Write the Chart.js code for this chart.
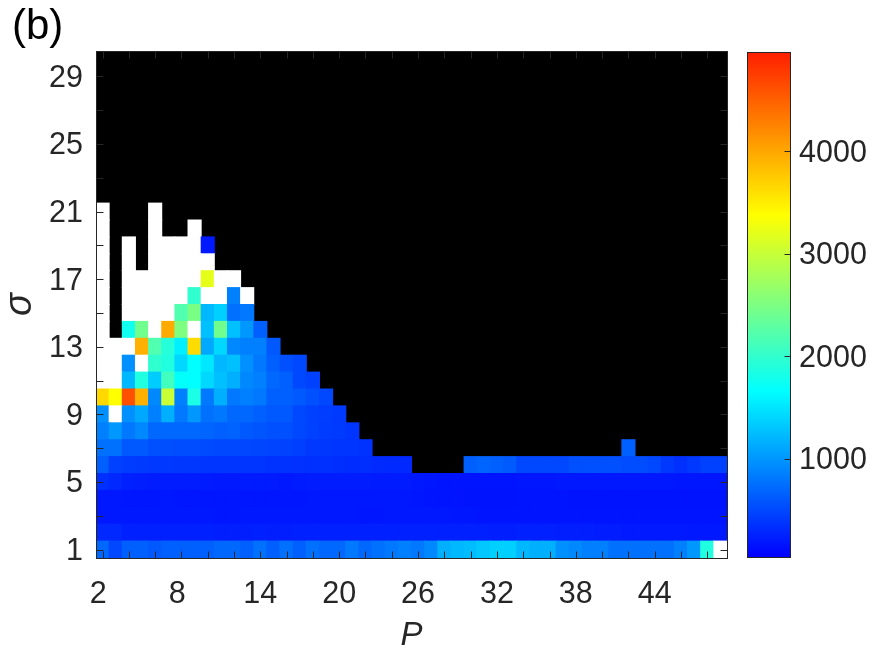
<!DOCTYPE html>
<html>
<head>
<meta charset="utf-8">
<title>(b)</title>
<script src="https://cdn.jsdelivr.net/npm/chart.js@4"></script>
<style>
body{margin:0;background:#fff;}
canvas{position:absolute;top:0;}
#panelTag{position:absolute;left:12px;top:1px;font:42px "Liberation Sans",Arial,sans-serif;color:#000;}
</style>
</head>
<body>
<canvas id="heat" width="875" height="656" style="left:0"></canvas>
<canvas id="bar" width="145" height="656" style="left:730px"></canvas>
<div id="panelTag">(b)</div>
<script>
'use strict';
const _ = null;   // black, no value
const W = 9999;   // white, off the colour range

const categories = [];
for (let p = 2; p <= 49; p++) categories.push(p);
const xTickLabels = [2, 8, 14, 20, 26, 32, 38, 44];
const yTickLabels = [1, 5, 9, 13, 17, 21, 25, 29];
const yTickMarks = [1, 3, 5, 7, 9, 11, 13, 15, 17, 19, 21, 23, 25, 27, 29];
const barTicks = [1000, 2000, 3000, 4000];
const barRange = [40, 4970];
const colorStops = [[40, [0, 0, 255]], [1663, [0, 255, 255]], [3377, [255, 255, 0]], [4970, [255, 30, 0]]];

const row1 = [702,498,651,651,600,651,651,651,651,702,702,651,753,651,753,651,753,702,702,804,702,753,804,855,804,906,1160,1211,1240,1313,1364,1364,1211,1160,1160,956,906,855,855,753,753,753,753,753,855,1007,1878,W];
const row2 = [295,295,244,244,244,244,244,244,244,230,230,230,244,230,230,244,244,244,244,244,244,244,244,244,244,244,244,244,244,244,230,230,244,244,244,230,230,230,220,220,200,200,200,200,200,190,190,190];
const row3 = [193,193,193,193,190,190,190,190,190,180,180,190,190,190,190,190,190,190,190,190,180,180,190,190,190,190,190,180,180,170,170,170,170,170,170,170,170,170,170,170,170,170,170,170,170,170,170,170];
const row4 = [193,193,180,180,180,190,180,180,180,180,180,180,180,180,180,180,193,193,193,193,193,193,193,190,180,170,170,170,160,160,160,160,170,170,170,170,160,160,160,160,160,160,160,160,160,160,160,160];
const row5 = [346,295,244,230,220,220,220,220,210,200,200,210,210,210,193,210,220,220,220,220,220,210,210,210,190,180,170,170,170,170,170,170,180,180,180,190,190,190,190,190,190,190,190,190,180,180,180,180];
const row6 = [651,447,420,400,396,396,390,390,380,380,380,370,370,360,360,350,346,346,330,320,330,310,300,300,_,_,_,_,651,680,651,620,498,498,498,498,549,549,549,549,530,530,498,396,346,396,447,447];
const row7 = [753,753,600,600,549,540,530,530,510,500,500,490,480,470,460,440,396,390,380,370,360,_,_,_,_,_,_,_,_,_,_,_,_,_,_,_,_,_,_,_,651];
const row8 = [855,1007,804,906,702,702,702,702,680,651,670,600,580,549,549,498,447,420,400,380];
const row9 = [956,W,956,1109,855,1160,804,1007,753,804,702,702,651,600,600,498,447,430,400];
const row10 = [3653,3377,4616,3936,906,3007,855,1838,804,1160,804,855,804,651,651,600,549,498];
const row11 = [W,W,1211,1878,1340,2093,1680,1663,1415,1262,1160,906,855,702,651,498,447];
const row12 = [W,W,956,W,1985,1878,1415,1663,1516,1211,1262,956,804,651,549,498];
const row13 = [W,W,W,3936,2200,1912,1567,3625,1109,1415,906,855,855,600];
const row14 = [W,_,1770,2416,W,3979,2517,W,1262,2416,1262,1007,651];
const row15 = [W,_,W,W,W,W,2200,2483,1211,1364,753,804];
const row16 = [W,_,W,W,W,W,W,1985,W,W,855,W];
const row17 = [W,_,W,W,W,W,W,W,3209,W,W];
const row18 = [W,_,W,_,W,W,W,W,W];
const row19 = [W,_,W,_,W,W,W,W,200];
const row20 = [W,_,_,_,W,_,_,W];
const row21 = [W,_,_,_,W];
const sigmaRows = [row1,row2,row3,row4,row5,row6,row7,row8,row9,row10,row11,row12,row13,row14,row15,row16,row17,row18,row19,row20,row21];

const ink = '#262626';
const tickFont = {family: '"Liberation Sans", Arial, sans-serif', size: 30.5};

function colorOf(v) {
    if (v === null) return 'rgba(0,0,0,0)';
    if (v > barRange[1]) return '#ffffff';
    for (let i = 1; i < colorStops.length; i++) {
        if (v <= colorStops[i][0]) {
            const a = colorStops[i - 1], b = colorStops[i];
            const t = (v - a[0]) / (b[0] - a[0]);
            const c = a[1].map((x, k) => Math.round(x + (b[1][k] - x) * t));
            return `rgb(${c[0]},${c[1]},${c[2]})`;
        }
    }
    return '#ffffff';
}

function line(ctx, x1, y1, x2, y2) {
    ctx.beginPath();
    ctx.moveTo(Math.round(x1) + 0.5, Math.round(y1) + 0.5);
    ctx.lineTo(Math.round(x2) + 0.5, Math.round(y2) + 0.5);
    ctx.stroke();
}

// black plot background, then the box and the inward ticks on all four sides
const heatFrame = {
    id: 'heatFrame',
    beforeDatasetsDraw(chart) {
        const a = chart.chartArea;
        chart.ctx.fillStyle = '#000';
        chart.ctx.fillRect(a.left, a.top, a.width, a.height);
    },
    afterDatasetsDraw(chart) {
        const ctx = chart.ctx, a = chart.chartArea, len = 7;
        ctx.save();
        ctx.strokeStyle = ink;
        ctx.lineWidth = 1;
        ctx.strokeRect(Math.round(a.left) + 0.5, Math.round(a.top) + 0.5, Math.round(a.width), Math.round(a.height));
        categories.forEach(function (p, i) {
            if (p % 2 !== 0) return;
            const x = chart.scales.x.getPixelForTick(i);
            line(ctx, x, a.bottom, x, a.bottom - len);
            line(ctx, x, a.top, x, a.top + len);
        });
        yTickMarks.forEach(function (s) {
            const y = chart.scales.y.getPixelForValue(s);
            line(ctx, a.left, y, a.left + len, y);
            line(ctx, a.right, y, a.right - len, y);
        });
        ctx.restore();
    }
};

new Chart(document.getElementById('heat'), {
    type: 'bar',
    plugins: [heatFrame],
    data: {
        labels: categories,
        datasets: sigmaRows.map((row, r) => ({
            data: row.map(v => v === null ? null : [r + 0.5, r + 1.5]),
            backgroundColor: row.map(colorOf),
            borderWidth: 0,
            inflateAmount: 0.5,
            grouped: false,
            barPercentage: 1,
            categoryPercentage: 1
        }))
    },
    options: {
        responsive: false,
        animation: false,
        layout: {padding: {top: 51, right: 148, left: 0, bottom: 0}},
        plugins: {legend: {display: false}, tooltip: {enabled: false}},
        scales: {
            x: {
                grid: {display: false},
                border: {display: false},
                title: {display: true, text: 'P', color: ink, padding: {top: 6, bottom: 0},
                    font: {family: tickFont.family, size: 33, style: 'italic'}},
                ticks: {
                    autoSkip: false, maxRotation: 0, minRotation: 0, padding: 10, color: ink, font: tickFont,
                    // the single digits sit a little left of their ticks in the original
                    callback: function (val, i) {
                        const p = categories[i];
                        if (!xTickLabels.includes(p)) return '';
                        return p < 10 ? p + ' ' : String(p);
                    }
                },
                afterFit: function (s) { s.height = 98; }
            },
            y: {
                min: 0.5,
                max: 30.5,
                grid: {display: false},
                border: {display: false},
                title: {display: true, text: 'σ', color: ink, padding: {top: 1, bottom: 0},
                    font: {family: tickFont.family, size: 38, style: 'italic', lineHeight: 1}},
                afterBuildTicks: function (s) { s.ticks = yTickMarks.map(v => ({value: v})); },
                ticks: {
                    autoSkip: false, padding: 5, labelOffset: 2, color: ink, font: tickFont,
                    callback: v => yTickLabels.includes(v) ? String(v) : ''
                },
                afterFit: function (s) { s.width = 96; }
            }
        }
    }
});

const barFrame = {
    id: 'barFrame',
    afterDatasetsDraw(chart) {
        const ctx = chart.ctx, a = chart.chartArea;
        ctx.save();
        ctx.strokeStyle = ink;
        ctx.lineWidth = 1;
        ctx.strokeRect(Math.round(a.left) + 0.5, Math.round(a.top) + 0.5, Math.round(a.width), Math.round(a.height));
        barTicks.forEach(function (v) {
            const y = chart.scales.y.getPixelForValue(v);
            line(ctx, a.right, y, a.right - 6, y);
        });
        ctx.restore();
    }
};

function barFill(c) {
    const a = c.chart.chartArea;
    if (!a) return '#00f';
    const g = c.chart.ctx.createLinearGradient(0, a.bottom, 0, a.top);
    colorStops.forEach(function (s) {
        g.addColorStop((s[0] - barRange[0]) / (barRange[1] - barRange[0]), `rgb(${s[1].join(',')})`);
    });
    return g;
}

new Chart(document.getElementById('bar'), {
    type: 'bar',
    plugins: [barFrame],
    data: {
        labels: [''],
        datasets: [{data: [barRange], backgroundColor: barFill, borderWidth: 0, barPercentage: 1, categoryPercentage: 1}]
    },
    options: {
        responsive: false,
        animation: false,
        layout: {padding: {top: 52, right: 0, left: 17, bottom: 99}},
        plugins: {legend: {display: false}, tooltip: {enabled: false}},
        scales: {
            x: {display: false},
            y: {
                position: 'right',
                min: barRange[0],
                max: barRange[1],
                grid: {display: false},
                border: {display: false},
                afterBuildTicks: function (s) { s.ticks = barTicks.map(v => ({value: v})); },
                ticks: {padding: 1, labelOffset: 2, color: ink, font: tickFont, callback: v => String(v)},
                afterFit: function (s) { s.width = 85; }
            }
        }
    }
});
</script>
</body>
</html>
